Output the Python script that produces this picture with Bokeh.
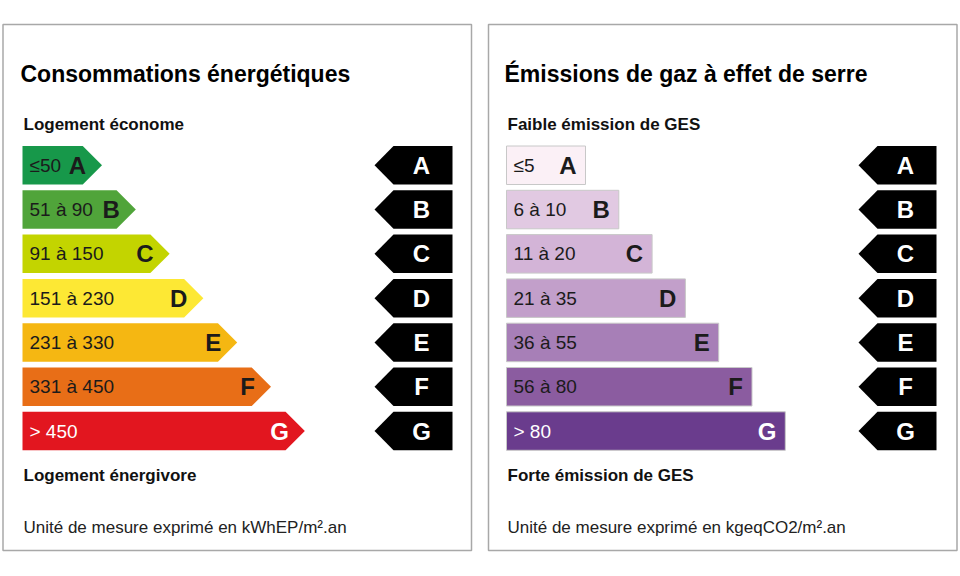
from bokeh.plotting import figure
from bokeh.models import Range1d
from bokeh.core.properties import value
from bokeh.embed import file_html
from bokeh.resources import INLINE

# DPE classes and the thresholds printed in each bar
classes = ["A", "B", "C", "D", "E", "F", "G"]
energy_ranges = ["≤50", "51 à 90", "91 à 150", "151 à 230", "231 à 330", "331 à 450", "> 450"]
ges_ranges = ["≤5", "6 à 10", "11 à 20", "21 à 35", "36 à 55", "56 à 80", "> 80"]

energy_colors = ["#17984a", "#50a43a", "#c3d400", "#fde834", "#f5b712", "#e86e17", "#e2161f"]
ges_colors = ["#fbf0f6", "#e1c9e2", "#d3b4d7", "#c29fca", "#a77fb7", "#8b5ca0", "#6a3c8d"]
energy_text = ["#1b1b1b"] * 6 + ["white"]
ges_text = ["#1b1b1b"] * 6 + ["white"]

FONT = value("Liberation Sans")

p = figure(width=958, height=560, output_backend="svg", toolbar_location=None,
           x_range=Range1d(0, 958), y_range=Range1d(560, 0),
           min_border=0, outline_line_color=None)
p.axis.visible = False
p.grid.visible = False

# panel frames
p.quad(left=[2.5, 488], right=[471, 956.5], top=[24, 24], bottom=[550, 550],
       fill_color=None, line_color="#a8a8a8", line_width=1.5)

row_h = 38.5
pitch = 44.3
top0 = 145.5
half = row_h / 2


def row_top(i):
    return top0 + i * pitch


# left panel: coloured arrows
xs, ys = [], []
for i in range(len(classes)):
    t = row_top(i)
    b = t + row_h
    tip = 101.5 + i * 33.8
    xs.append([22, tip - half, tip, tip - half, 22])
    ys.append([t, t, t + half, b, b])
p.patches(xs, ys, fill_color=energy_colors, line_color=None)

mid = [row_top(i) + half for i in range(len(classes))]
p.text(x=[29] * 7, y=mid, text=energy_ranges, text_color=energy_text,
       text_font=FONT, text_font_size="19px", text_baseline="middle", text_align="left")
p.text(x=[101.5 + i * 33.8 - 16 for i in range(7)], y=mid, text=classes,
       text_color=energy_text, text_font=FONT, text_font_style="bold",
       text_font_size="24px", text_baseline="middle", text_align="right")

# right panel: purple bars
bar_right = [585 + i * 33.3 for i in range(7)]
p.quad(left=[506] * 7, right=bar_right, top=[row_top(i) for i in range(7)],
       bottom=[row_top(i) + row_h for i in range(7)],
       fill_color=ges_colors, line_color="#c8c8c8", line_width=1)
p.text(x=[513] * 7, y=mid, text=ges_ranges, text_color=ges_text,
       text_font=FONT, text_font_size="19px", text_baseline="middle", text_align="left")
p.text(x=[r - 9 for r in bar_right], y=mid, text=classes,
       text_color=ges_text, text_font=FONT, text_font_style="bold",
       text_font_size="24px", text_baseline="middle", text_align="right")

# black indicator arrows on the right of each panel
for tip_x in (374, 858):
    bx, by = [], []
    for i in range(len(classes)):
        t = row_top(i)
        b = t + row_h
        bx.append([tip_x, tip_x + 19, tip_x + 78, tip_x + 78, tip_x + 19])
        by.append([t + half, t, t, b, b])
    p.patches(bx, by, fill_color="black", line_color=None)
    p.text(x=[tip_x + 47] * 7, y=mid, text=classes, text_color="white",
           text_font=FONT, text_font_style="bold", text_font_size="24px",
           text_baseline="middle", text_align="center")

# titles and captions
p.text(x=[20, 504], y=[73, 73],
       text=["Consommations énergétiques", "Émissions de gaz à effet de serre"],
       text_font=FONT, text_font_style="bold", text_font_size="23px",
       text_color="black", text_baseline="middle", text_align="left")
p.text(x=[23, 507, 23, 507], y=[124, 124, 475, 475],
       text=["Logement économe", "Faible émission de GES",
             "Logement énergivore", "Forte émission de GES"],
       text_font=FONT, text_font_style="bold", text_font_size="17px",
       text_color="#111111", text_baseline="middle", text_align="left")
p.text(x=[23, 507], y=[527, 527],
       text=["Unité de mesure exprimé en kWhEP/m².an",
             "Unité de mesure exprimé en kgeqCO2/m².an"],
       text_font=FONT, text_font_size="17px",
       text_color="#222222", text_baseline="middle", text_align="left")

open("out.html", "w").write(file_html(p, INLINE))
